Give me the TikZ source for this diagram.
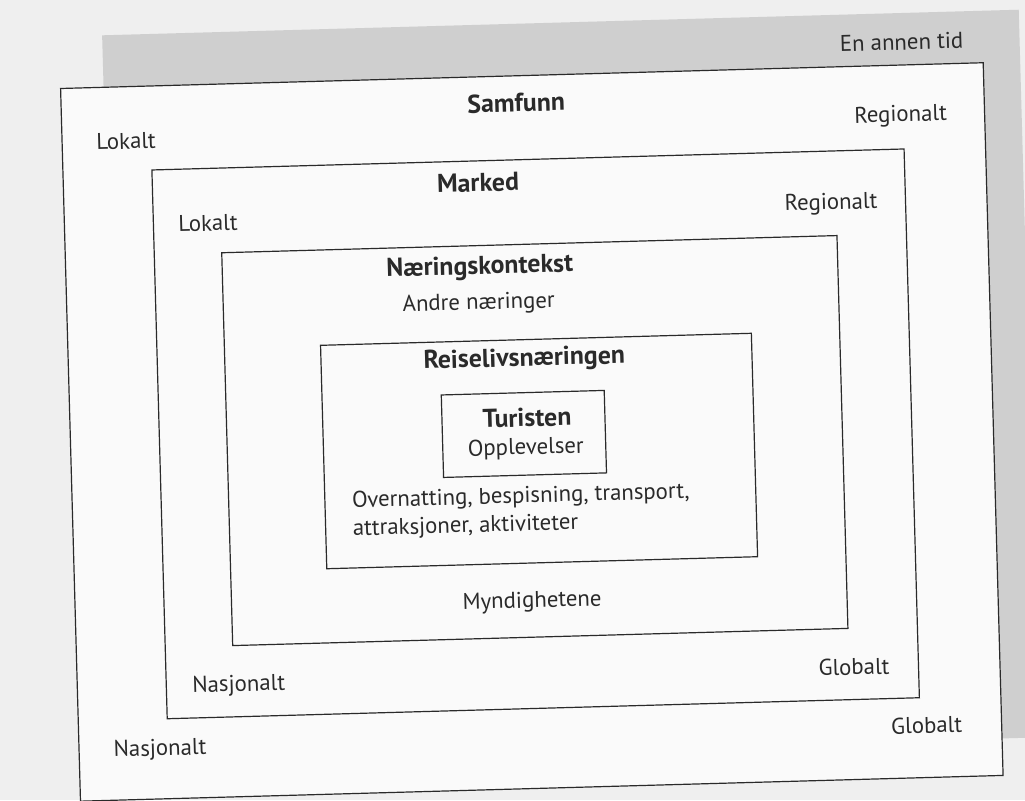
\documentclass[tikz,border=0pt]{standalone}
\usepackage{fontspec}
\setmainfont{PT Sans}
\definecolor{pagebg}{HTML}{EFEFEF}
\definecolor{band}{HTML}{CFCFCF}
\definecolor{inner}{HTML}{FAFAFA}
\definecolor{ink}{HTML}{2A2A2A}
\tikzset{
  frame/.style={draw=ink, line width=0.6pt},
  lbl/.style={text=ink, inner sep=0pt, font=\fontsize{11.4}{13}\selectfont},
  hdr/.style={lbl, font=\fontsize{12.9}{15}\selectfont\bfseries},
}
\begin{document}
\begin{tikzpicture}[x=0.5pt,y=-0.5pt]
\useasboundingbox (0,0) rectangle (1025,800);
\fill[pagebg] (0,0) rectangle (1025,800);
\clip (0,0) rectangle (1025,800);
\begin{scope}[rotate around={1.6:(512,420)}, transform shape]
  % shaded outer band ("En annen tid")
  \fill[band] (113,24) rectangle (1030,752);
  % nested frames
  \draw[frame, fill=inner] (70,76) rectangle (993,789);
  \draw[frame] (159,160) rectangle (911.5,709);
  \draw[frame] (226.5,244.7) rectangle (842,637.7);
  \draw[frame] (322.7,340) rectangle (753.7,563.5);
  \draw[frame] (442,393) rectangle (605,475.5);
  % labels
  \node[lbl] (tid) at (912,53) {En annen tid};
  \node[hdr] (samfunn) at (525,103) {Samfunn};
  \node[lbl] (lok1) at (134,130.3) {Lokalt};
  \node[lbl] (reg1) at (909,127) {Regionalt};
  \node[hdr] (marked) at (484.6,182) {Marked};
  \node[lbl] (lok2) at (213.6,214.6) {Lokalt};
  \node[lbl] (reg2) at (837,213) {Regionalt};
  \node[hdr] (naering) at (484,267) {Næringskontekst};
  \node[lbl] (andre) at (482,303) {Andre næringer};
  \node[hdr] (reise) at (526,360) {Reiselivsnæringen};
  \node[hdr] (turist) at (527,418) {Turisten};
  \node[lbl] (oppl) at (525,449) {Opplevelser};
  \node[lbl, anchor=west] (over) at (349.5,497.5) {Overnatting, bespisning, transport,};
  \node[lbl, anchor=west] (attr) at (349.5,525.5) {attraksjoner, aktiviteter};
  \node[lbl] (myn) at (527,602.5) {Myndighetene};
  \node[lbl, anchor=west] (nas2) at (184.7,678) {Nasjonalt};
  \node[lbl] (glob2) at (847,676.4) {Globalt};
  \node[lbl] (nas1) at (151,740) {Nasjonalt};
  \node[lbl] (glob1) at (918,736.5) {Globalt};
\end{scope}
\end{tikzpicture}
\end{document}
